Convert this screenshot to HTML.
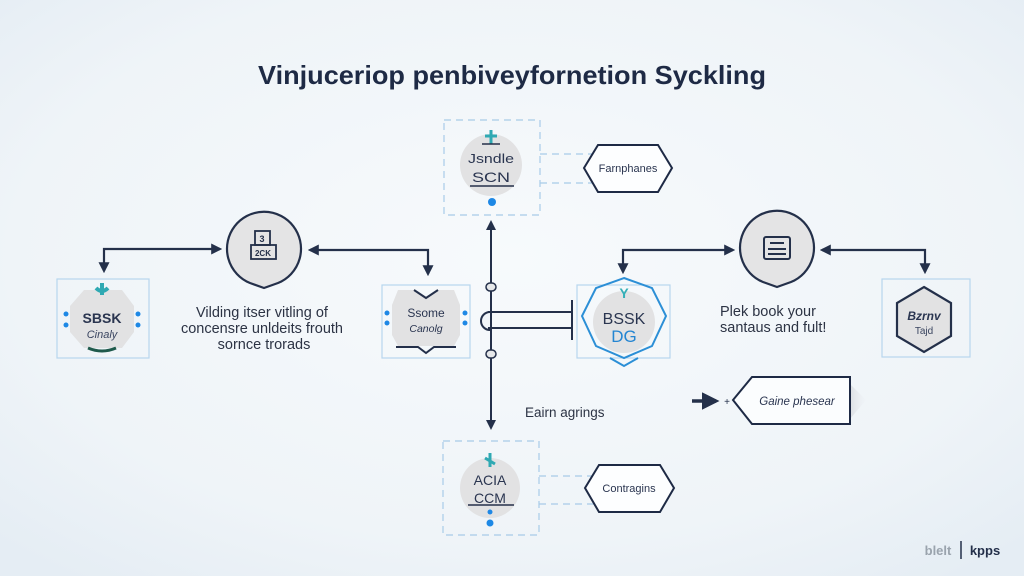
<!DOCTYPE html>
<html>
<head>
<meta charset="utf-8">
<style>
html,body{margin:0;padding:0;width:1024px;height:576px;overflow:hidden;background:#f1f5f9;}
svg{display:block;}
text{font-family:"Liberation Sans",sans-serif;}
</style>
</head>
<body>
<svg width="1024" height="576" viewBox="0 0 1024 576" xmlns="http://www.w3.org/2000/svg">
<defs>
<radialGradient id="bg" cx="50%" cy="45%" r="70%">
<stop offset="0" stop-color="#f7fafc"/>
<stop offset="0.7" stop-color="#eff4f8"/>
<stop offset="1" stop-color="#e5edf4"/>
</radialGradient>
<marker id="ah" viewBox="0 0 10 10" refX="8" refY="5" markerWidth="5" markerHeight="5" orient="auto-start-reverse">
<path d="M0,0 L10,5 L0,10 z" fill="#24304a"/>
</marker>
<linearGradient id="fade" x1="0" x2="1" y1="0" y2="0">
<stop offset="0" stop-color="#dcdfe3"/>
<stop offset="1" stop-color="#eef2f6" stop-opacity="0.3"/>
</linearGradient>
</defs>
<rect width="1024" height="576" fill="url(#bg)"/>

<!-- Title -->
<text x="512" y="84" text-anchor="middle" font-size="26" font-weight="bold" fill="#1e2a45" textLength="508" lengthAdjust="spacingAndGlyphs">Vinjuceriop penbiveyfornetion Syckling</text>

<!-- ===== Top center node ===== -->
<rect x="444" y="120" width="96" height="95" fill="none" stroke="#a8cbe8" stroke-width="1.2" stroke-dasharray="7 5"/>
<line x1="540" y1="154" x2="592" y2="154" stroke="#a8cbe8" stroke-width="1.2" stroke-dasharray="7 5"/>
<line x1="540" y1="183" x2="592" y2="183" stroke="#a8cbe8" stroke-width="1.2" stroke-dasharray="7 5"/>
<circle cx="491" cy="165" r="31" fill="#e2e2e3"/>
<path d="M491 130 v14 M485 136 h12" stroke="#2fa9b3" stroke-width="3"/>
<path d="M482 144 h18" stroke="#24304a" stroke-width="1.5"/>
<text x="491" y="163" text-anchor="middle" font-size="13" fill="#2a3550" font-family="Liberation Serif,serif" textLength="46" lengthAdjust="spacingAndGlyphs">Jsndle</text>
<text x="491" y="182" text-anchor="middle" font-size="14" fill="#2a3550" textLength="38" lengthAdjust="spacingAndGlyphs">SCN</text>
<line x1="470" y1="186" x2="514" y2="186" stroke="#24304a" stroke-width="1.5"/>
<circle cx="492" cy="202" r="4" fill="#1e88e5"/>
<polygon points="584,168 598,145 658,145 672,168 658,192 598,192" fill="#fdfeff" stroke="#1e2a45" stroke-width="2"/>
<text x="628" y="172" text-anchor="middle" font-size="11" fill="#2a3550">Farnphanes</text>

<!-- ===== Vertical connector ===== -->
<line x1="491" y1="222" x2="491" y2="428" stroke="#24304a" stroke-width="2" marker-start="url(#ah)" marker-end="url(#ah)"/>
<rect x="486" y="283" width="10" height="8" rx="4" fill="#e6e8ea" stroke="#24304a" stroke-width="1.5"/>
<rect x="486" y="350" width="10" height="8" rx="4" fill="#e6e8ea" stroke="#24304a" stroke-width="1.5"/>
<path d="M490 312 A9 9 0 1 0 490 330" fill="#f1f5f9" stroke="#24304a" stroke-width="2"/>
<line x1="488" y1="312" x2="572" y2="312" stroke="#24304a" stroke-width="2"/>
<line x1="488" y1="328" x2="572" y2="328" stroke="#24304a" stroke-width="2"/>
<line x1="572" y1="300" x2="572" y2="340" stroke="#24304a" stroke-width="2"/>

<!-- ===== Left connectors ===== -->
<polyline points="104,271 104,249 220,249" fill="none" stroke="#24304a" stroke-width="2.2" marker-start="url(#ah)" marker-end="url(#ah)"/>
<polyline points="310,250 428,250 428,274" fill="none" stroke="#24304a" stroke-width="2.2" marker-start="url(#ah)" marker-end="url(#ah)"/>

<!-- Circle pin node 1 -->
<path d="M264 288 L250 283 A37 37 0 1 1 278 283 Z" fill="#e4e4e5" stroke="#24304a" stroke-width="2.2"/>
<rect x="255" y="231" width="15" height="14" fill="none" stroke="#24304a" stroke-width="1.8"/>
<text x="262" y="242" text-anchor="middle" font-size="9" font-weight="bold" fill="#24304a">3</text>
<rect x="251" y="245" width="25" height="14" fill="none" stroke="#24304a" stroke-width="1.8"/>
<text x="263" y="256" text-anchor="middle" font-size="8" font-weight="bold" fill="#24304a">2CK</text>

<text font-size="14.5" fill="#2c3344" text-anchor="middle">
<tspan x="264" y="317">Vilding itser vitling of</tspan>
<tspan x="264" y="333">concensre unldeits  frouth</tspan>
<tspan x="264" y="349">sornce trorads</tspan>
</text>

<!-- Left node SBSK -->
<rect x="57" y="279" width="92" height="79" fill="none" stroke="#b7d6ee" stroke-width="1.2"/>
<polygon points="84,290 122,290 134,306 134,332 122,348 84,348 70,332 70,306" fill="#e2e2e3"/>
<path d="M102 283 v12 M96 288 q6 6 12 0" stroke="#2fa9b3" stroke-width="4" fill="none"/>
<path d="M88 348 q14 6 28 0" stroke="#1f5a4c" stroke-width="3" fill="none"/>
<text x="102" y="323" text-anchor="middle" font-size="14" font-weight="bold" fill="#2a3550">SBSK</text>
<text x="102" y="338" text-anchor="middle" font-size="11" fill="#3a4560" font-family="Liberation Serif,serif" font-style="italic">Cinaly</text>
<circle cx="66" cy="314" r="2.5" fill="#1e88e5"/><circle cx="66" cy="325" r="2.5" fill="#1e88e5"/>
<circle cx="138" cy="314" r="2.5" fill="#1e88e5"/><circle cx="138" cy="325" r="2.5" fill="#1e88e5"/>

<!-- Middle-left node Ssome -->
<rect x="382" y="285" width="88" height="73" fill="none" stroke="#b7d6ee" stroke-width="1.2"/>
<polygon points="398,290 414,290 426,298 438,290 454,290 460,305 460,335 454,346 398,346 392,335 392,305" fill="#e2e2e3"/>
<path d="M414 290 l12 8 l12 -8" fill="none" stroke="#24304a" stroke-width="2"/>
<path d="M396 347 h22 l8 6 l8 -6 h22" fill="none" stroke="#24304a" stroke-width="2"/>
<text x="426" y="317" text-anchor="middle" font-size="12" fill="#2a3550" font-family="Liberation Serif,serif">Ssome</text>
<text x="426" y="332" text-anchor="middle" font-size="10.5" fill="#2a3550" font-style="italic">Canolg</text>
<circle cx="387" cy="313" r="2.5" fill="#1e88e5"/><circle cx="387" cy="323" r="2.5" fill="#1e88e5"/>
<circle cx="465" cy="313" r="2.5" fill="#1e88e5"/><circle cx="465" cy="323" r="2.5" fill="#1e88e5"/>

<!-- Right-side connectors -->
<polyline points="623,272 623,250 733,250" fill="none" stroke="#24304a" stroke-width="2.2" marker-start="url(#ah)" marker-end="url(#ah)"/>
<polyline points="822,250 925,250 925,272" fill="none" stroke="#24304a" stroke-width="2.2" marker-start="url(#ah)" marker-end="url(#ah)"/>

<!-- Circle pin node 2 -->
<path d="M777 287 L763 282 A37 37 0 1 1 791 282 Z" fill="#e4e4e5" stroke="#24304a" stroke-width="2.2"/>
<rect x="764" y="237" width="26" height="22" rx="2" fill="none" stroke="#24304a" stroke-width="2"/>
<line x1="770" y1="243" x2="784" y2="243" stroke="#24304a" stroke-width="2"/>
<line x1="768" y1="249" x2="786" y2="249" stroke="#24304a" stroke-width="2"/>
<line x1="768" y1="254" x2="786" y2="254" stroke="#24304a" stroke-width="2"/>

<text font-size="14.5" fill="#2c3344">
<tspan x="720" y="316">Plek book  your</tspan>
<tspan x="720" y="332">santaus and fult!</tspan>
</text>

<!-- Right center node BSSK DG -->
<rect x="577" y="285" width="93" height="73" fill="none" stroke="#b7d6ee" stroke-width="1.2"/>
<circle cx="624" cy="322" r="31" fill="#e2e2e3"/>
<polygon points="624,278 652,288 666,316 652,346 624,358 596,346 582,316 596,288" fill="none" stroke="#2c8fd6" stroke-width="2"/>
<path d="M610 358 l14 8 l14 -8" fill="none" stroke="#2c8fd6" stroke-width="2"/>
<text x="624" y="298" text-anchor="middle" font-size="14" font-weight="bold" fill="#35b0b8">Y</text>
<text x="624" y="324" text-anchor="middle" font-size="16" fill="#2a3550">BSSK</text>
<text x="624" y="342" text-anchor="middle" font-size="17" fill="#2485d2">DG</text>

<!-- Right hexagon node -->
<rect x="882" y="279" width="88" height="78" fill="none" stroke="#b7d6ee" stroke-width="1.2"/>
<polygon points="924,287 951,303 951,336 924,352 897,336 897,303" fill="#e2e2e3" stroke="#24304a" stroke-width="2.2"/>
<text x="924" y="320" text-anchor="middle" font-size="12" font-weight="bold" font-style="italic" fill="#2a3550">Bzrnv</text>
<text x="924" y="334" text-anchor="middle" font-size="10" fill="#3a4560">Tajd</text>

<!-- Gaine phesear -->
<line x1="692" y1="401" x2="716" y2="401" stroke="#24304a" stroke-width="3.5" marker-end="url(#ah)"/>
<text x="727" y="405" text-anchor="middle" font-size="10" fill="#24304a">+</text>
<polygon points="850,384 866,400 850,419" fill="url(#fade)"/>
<polygon points="733,400 752,377 850,377 850,424 752,424" fill="#fbfdfe" stroke="#1e2a45" stroke-width="2"/>
<text x="797" y="405" text-anchor="middle" font-size="11.5" font-style="italic" fill="#2a3550">Gaine phesear</text>

<text x="525" y="417" font-size="13.5" fill="#2c3344">Eairn agrings</text>

<!-- Bottom node -->
<rect x="443" y="441" width="96" height="94" fill="none" stroke="#a8cbe8" stroke-width="1.2" stroke-dasharray="7 5"/>
<line x1="539" y1="476" x2="598" y2="476" stroke="#a8cbe8" stroke-width="1.2" stroke-dasharray="7 5"/>
<line x1="539" y1="504" x2="598" y2="504" stroke="#a8cbe8" stroke-width="1.2" stroke-dasharray="7 5"/>
<circle cx="490" cy="488" r="30" fill="#e2e2e3"/>
<path d="M490 453 v14 M485 458 l10 6" stroke="#2fa9b3" stroke-width="3"/>
<text x="490" y="485" text-anchor="middle" font-size="14" fill="#2a3550" font-family="Liberation Serif,serif">ACIA</text>
<text x="490" y="503" text-anchor="middle" font-size="14" fill="#2a3550" font-family="Liberation Serif,serif">CCM</text>
<line x1="468" y1="505" x2="514" y2="505" stroke="#24304a" stroke-width="1.5"/>
<circle cx="490" cy="512" r="2.5" fill="#1e88e5"/>
<circle cx="490" cy="523" r="3.5" fill="#1e88e5"/>
<polygon points="585,488 599,465 660,465 674,488 660,512 599,512" fill="#fdfeff" stroke="#1e2a45" stroke-width="2"/>
<text x="629" y="492" text-anchor="middle" font-size="11" fill="#2a3550">Contragins</text>

<!-- Footer -->
<text x="938" y="555" text-anchor="middle" font-size="13" font-weight="bold" fill="#9aa3ad">blelt</text>
<line x1="961" y1="541" x2="961" y2="559" stroke="#24304a" stroke-width="1.5"/>
<text x="985" y="555" text-anchor="middle" font-size="13" font-weight="bold" fill="#24304a">kpps</text>
</svg>
</body>
</html>
